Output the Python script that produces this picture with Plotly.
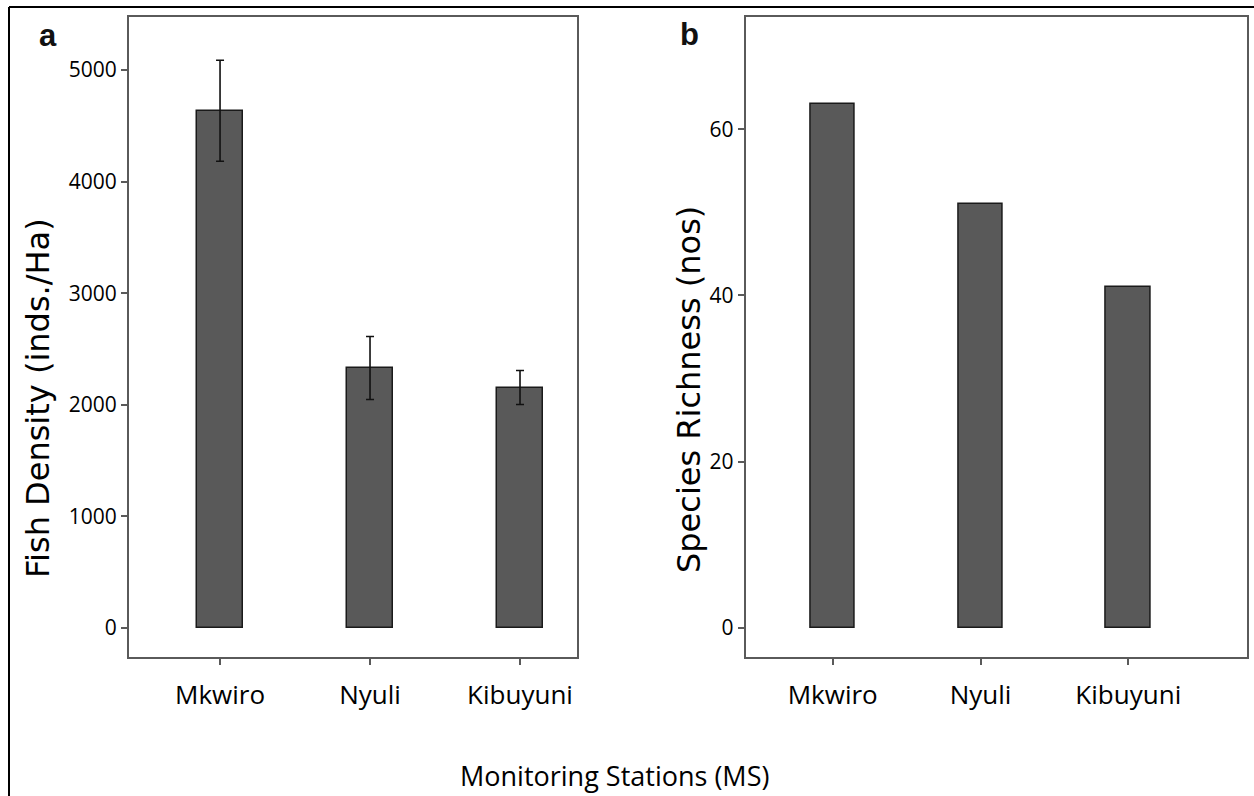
import plotly.graph_objects as go

stations = ["Mkwiro", "Nyuli", "Kibuyuni"]
fish_density = [4635, 2330, 2155]
fish_density_err = [452, 282, 152]
species_richness = [63, 51, 41]
density_ticks = [0, 1000, 2000, 3000, 4000, 5000]
richness_ticks = [0, 20, 40, 60]

W, H = 1254, 796
BAR = "#595959"
AX = "#5a5a5a"
FONT = "Open Sans"
TITLE_FONT = "DejaVu Sans"

fig = go.Figure()
fig.add_trace(go.Bar(
    x=stations, y=fish_density, width=0.31,
    marker=dict(color=BAR, line=dict(color="#1a1a1a", width=1.5)),
    error_y=dict(type="data", array=fish_density_err, color="#111111", thickness=1.6, width=4),
    xaxis="x", yaxis="y", showlegend=False))
fig.add_trace(go.Bar(
    x=stations, y=species_richness, width=0.30,
    marker=dict(color=BAR, line=dict(color="#1a1a1a", width=1.5)),
    xaxis="x2", yaxis="y2", showlegend=False))

def px_x(p):
    return p / W

def px_y(p):
    return 1 - p / H

ax_common = dict(showline=True, linecolor=AX, linewidth=2, mirror=True,
                 ticks="outside", ticklen=6, tickcolor=AX, tickwidth=1.5,
                 showgrid=False, zeroline=False)

fig.update_layout(
    width=W, height=H, margin=dict(l=0, r=0, t=0, b=0),
    paper_bgcolor="white", plot_bgcolor="white",
    font=dict(family=FONT, color="black"),
    xaxis=dict(domain=[px_x(129), px_x(577)], range=[-0.607, 2.38], anchor="y",
               tickfont=dict(size=26, color="black"), ticklabelstandoff=8, **ax_common),
    yaxis=dict(domain=[px_y(657), px_y(17)], range=[-260, 5475], anchor="x",
               tickvals=density_ticks, tickfont=dict(size=21, color="black"),
               **ax_common),
    xaxis2=dict(domain=[px_x(745.7), px_x(1246.5)], range=[-0.589, 2.80], anchor="y2",
                tickfont=dict(size=26, color="black"), ticklabelstandoff=8, **ax_common),
    yaxis2=dict(domain=[px_y(657), px_y(17)], range=[-3.53, 73.5], anchor="x2",
                tickvals=richness_ticks, tickfont=dict(size=21, color="black"),
                **ax_common),
    bargap=0,
)

# axis titles
fig.add_annotation(text="Fish Density (inds./Ha)", x=px_x(38), y=px_y(398), xref="paper", yref="paper",
                   textangle=-90, showarrow=False, xanchor="center", yanchor="middle",
                   font=dict(family=TITLE_FONT, size=32, color="black"))
fig.add_annotation(text="Species Richness (nos)", x=px_x(689), y=px_y(390), xref="paper", yref="paper",
                   textangle=-90, showarrow=False, xanchor="center", yanchor="middle",
                   font=dict(family=TITLE_FONT, size=32, color="black"))

fig.add_annotation(text="<b>a</b>", x=px_x(48), y=px_y(35), xref="paper", yref="paper",
                   showarrow=False, xanchor="center", yanchor="middle",
                   font=dict(family="Liberation Sans", size=31, color="#111111"))
fig.add_annotation(text="<b>b</b>", x=px_x(689), y=px_y(34), xref="paper", yref="paper",
                   showarrow=False, xanchor="center", yanchor="middle",
                   font=dict(family="Liberation Sans", size=31, color="#111111"))
fig.add_annotation(text="Monitoring Stations (MS)", x=px_x(614), y=px_y(775), xref="paper", yref="paper",
                   showarrow=False, xanchor="center", yanchor="middle",
                   font=dict(family=FONT, size=27, color="black"))

# outer frame (left and top edges)
fig.add_shape(type="line", xref="paper", yref="paper", x0=px_x(9), y0=0, x1=px_x(9), y1=px_y(7),
              line=dict(color="black", width=2))
fig.add_shape(type="line", xref="paper", yref="paper", x0=px_x(9), y0=px_y(7), x1=1, y1=px_y(7),
              line=dict(color="black", width=2))

fig.write_html("out.html")
